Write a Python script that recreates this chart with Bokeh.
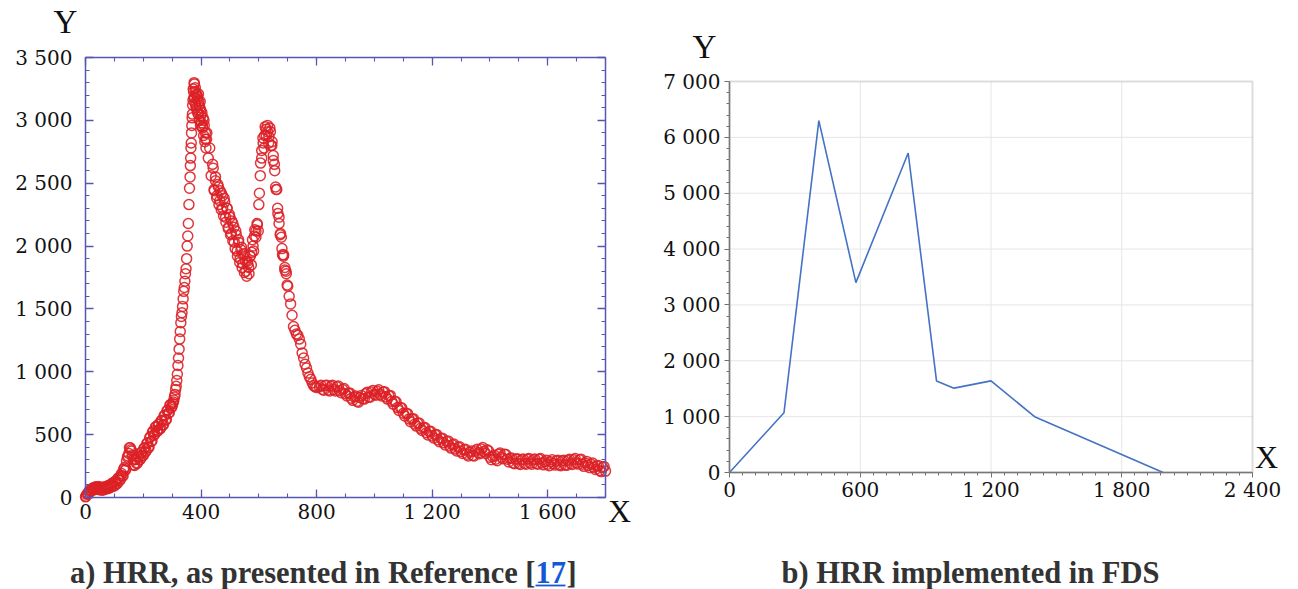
from bokeh.plotting import figure
from bokeh.models import Range1d, FixedTicker, LinearAxis, Label, BoxAnnotation
from bokeh.layouts import row
from bokeh.embed import file_html
from bokeh.resources import INLINE

# ---------------- data: (a) HRR as presented in Reference [17] ----------------
t_a = list(range(0, 301, 5))
hrr_a = [5, 25, 30, 60, 50, 75, 62, 85, 65, 88,
         60, 82, 58, 84, 66, 92, 72, 102, 84, 118,
         92, 132, 112, 158, 140, 190, 172, 238, 228, 320,
         350, 395, 370, 300, 255, 305, 275, 330, 305, 362,
         335, 398, 370, 435, 400, 485, 450, 530, 505, 565,
         530, 585, 550, 615, 580, 655, 620, 695, 675, 740,
         725]
t_b = list(range(302, 401, 2))
hrr_b = [745, 760, 775, 800, 820, 860, 885, 930, 980, 1050,
         1110, 1180, 1260, 1320, 1390, 1440, 1470, 1520, 1580, 1640,
         1670, 1720, 1780, 1820, 1900, 2000, 2080, 2180, 2330, 2460,
         2550, 2700, 2820, 2960, 3050, 3160, 3230, 3300, 3180, 3260,
         3120, 3210, 3080, 3190, 3050, 3150, 3000, 3100, 2960, 3040]
t_c = list(range(405, 801, 5))
hrr_c = [2950, 3000, 2850, 2900, 2700, 2780, 2560, 2650, 2450, 2520,
         2400, 2470, 2360, 2420, 2300, 2380, 2230, 2300, 2150, 2230,
         2100, 2180, 2030, 2120, 1960, 2050, 1900, 1990, 1860, 1940,
         1800, 1880, 1830, 1920, 1950, 2000, 2080, 2120, 2170, 2330,
         2560, 2760, 2820, 2880, 2930, 2960, 2870, 2910, 2800, 2720,
         2600, 2450, 2300, 2180, 2100, 1980, 1920, 1830, 1780, 1680,
         1600, 1540, 1450, 1360, 1330, 1300, 1290, 1260, 1220, 1150,
         1110, 1060, 1030, 990, 960, 940, 910, 890, 880, 875]
t_d = list(range(810, 1801, 10))
hrr_d = [880, 860, 890, 855, 885, 860, 880, 850, 860, 825,
         830, 790, 800, 765, 795, 785, 825, 800, 840, 820,
         845, 820, 840, 800, 810, 765, 765, 715, 715, 670,
         670, 625, 625, 585, 590, 550, 555, 515, 525, 490,
         500, 460, 470, 435, 445, 410, 420, 385, 400, 365,
         380, 345, 360, 335, 370, 355, 385, 365, 380, 320,
         325, 305, 345, 320, 345, 305, 310, 275, 305, 270,
         300, 270, 305, 275, 300, 270, 305, 275, 285, 265,
         285, 270, 290, 260, 290, 260, 295, 270, 300, 275,
         300, 265, 275, 255, 265, 240, 250, 215, 240, 210]
# extra (denser) samples in the peak / valley clusters
t_e = list(range(363, 420, 2))
hrr_e = [2640, 2780, 2900, 3020, 3120, 3250, 3180, 3290, 3140, 3230,
         3100, 3200, 3170, 3060, 3210, 3120, 3000, 3150, 3080, 2980,
         3060, 2940, 3020, 2880, 2960, 2830, 2900, 2780, 2850]
t_f = list(range(442, 599, 4))
hrr_f = [2620, 2440, 2550, 2380, 2490, 2330, 2440, 2290, 2400, 2240,
         2350, 2190, 2300, 2140, 2250, 2090, 2200, 2040, 2150, 1980,
         2090, 1920, 2030, 1870, 1970, 1830, 1930, 1790, 1880, 1760,
         1860, 1780, 1920, 1850, 2050, 1960, 2130, 2070, 2180, 2120]
t_g = list(range(602, 699, 4))
hrr_g = [2420, 2660, 2700, 2860, 2780, 2950, 2880, 2910, 2820, 2940,
         2800, 2830, 2680, 2650, 2470, 2450, 2260, 2230, 2090, 2070,
         1930, 1930, 1810, 1800, 1690]
# extra samples in the slow growth and in the decay tail
t_h = list(range(815, 1800, 10))
hrr_h = [892, 853, 892, 848, 892, 848, 887, 833, 867, 808,
         832, 773, 807, 758, 812, 783, 837, 798, 852, 813,
         857, 808, 842, 783, 812, 743, 762, 693, 712, 648,
         667, 603, 627, 568, 592, 533, 557, 498, 527, 473,
         502, 443, 472, 418, 450, 393, 425, 370, 404, 350,
         384, 330, 370, 330, 384, 348, 397, 350, 372, 300,
         337, 293, 354, 308, 342, 283, 314, 268, 309, 263,
         307, 265, 310, 265, 307, 265, 310, 260, 297, 253,
         300, 258, 297, 253, 297, 256, 304, 263, 310, 266,
         305, 248, 287, 238, 274, 223, 254, 206, 247]
t_i = list(range(2, 300, 5))
hrr_i = [10, 30, 48, 55, 68, 70, 80, 72, 82, 70,
         78, 62, 80, 70, 86, 76, 95, 84, 108, 95,
         125, 108, 150, 135, 175, 170, 225, 215, 290, 330,
         395, 380, 335, 260, 300, 270, 320, 300, 355, 330,
         390, 360, 430, 395, 475, 445, 520, 495, 560, 525,
         580, 545, 610, 575, 650, 615, 690, 670, 735, 715]

ref_time = t_a + t_b + t_c + t_d + t_e + t_f + t_g + t_h + t_i
ref_hrr = hrr_a + hrr_b + hrr_c + hrr_d + hrr_e + hrr_f + hrr_g + hrr_h + hrr_i

# ---------------- data: (b) HRR implemented in FDS ----------------
fds_time = [0, 250, 410, 580, 820, 950, 1030, 1200, 1400, 1990]
fds_hrr = [0, 1070, 6300, 3400, 5720, 1640, 1510, 1640, 1000, 0]

# ticks / labels
a_xticks = [0, 400, 800, 1200, 1600]
a_xlabels = ["0", "400", "800", "1 200", "1 600"]
a_yticks = [0, 500, 1000, 1500, 2000, 2500, 3000, 3500]
a_ylabels = ["0", "500", "1 000", "1 500", "2 000", "2 500", "3 000", "3 500"]
b_xticks = [0, 600, 1200, 1800, 2400]
b_xlabels = ["0", "600", "1 200", "1 800", "2 400"]
b_yticks = [0, 1000, 2000, 3000, 4000, 5000, 6000, 7000]
b_ylabels = ["0", "1 000", "2 000", "3 000", "4 000", "5 000", "6 000", "7 000"]

caption_a = "a) HRR, as presented in Reference ["
caption_a_ref = "17"
caption_a_end = "]"
caption_b = "b) HRR implemented in FDS"

TICK_FONT = "DejaVu Serif"
LETTER_FONT = "Liberation Serif"
CAP_FONT = "Liberation Serif"
BLUE_AX = "#5656b4"
H = 589

# ---------------- layout (page pixels) ----------------
W1 = 640
A_X0, A_X1, A_Y0, A_Y1 = 85, 605, 497, 57          # plot box of (a)
A_XMAX, A_YMAX = 1800, 3500
sx1 = A_XMAX / (A_X1 - A_X0)
sy1 = A_YMAX / (A_Y0 - A_Y1)
fx1 = lambda px: (px - A_X0) * sx1
fy1 = lambda py: (A_Y0 - py) * sy1

W2 = 656
B_X0, B_X1, B_Y0, B_Y1 = 729, 1252, 472, 81         # plot box of (b), page coords
B_XMAX, B_YMAX = 2400, 7000
sx2 = B_XMAX / (B_X1 - B_X0)
sy2 = B_YMAX / (B_Y0 - B_Y1)
fx2 = lambda px: (px - B_X0) * sx2
fy2 = lambda py: (B_Y0 - py) * sy2

# text labels are drawn slightly below the given baseline: compensate
LET_SHIFT = 12
CAP_SHIFT = 11


def bare_figure(w, xr, yr):
    p = figure(width=w, height=H, x_range=xr, y_range=yr,
               output_backend="svg", toolbar_location=None,
               x_axis_type=None, y_axis_type=None,
               min_border=0, min_border_left=0, min_border_right=0,
               min_border_top=0, min_border_bottom=0)
    p.outline_line_color = None
    p.background_fill_color = "white"
    p.border_fill_color = "white"
    return p


# ================= figure (a) =================
p1 = bare_figure(W1, Range1d(fx1(0), fx1(W1)), Range1d(fy1(H), fy1(0)))

p1.scatter(ref_time, ref_hrr, marker="circle", size=10, fill_color=None,
           line_color="#dc2127", line_width=1.5, line_alpha=0.9)

for loc in ["below", "left", "above", "right"]:
    if loc in ("below", "above"):
        tk = FixedTicker(ticks=a_xticks, minor_ticks=list(range(0, A_XMAX + 1, 100)))
        ticks, labels = a_xticks, a_xlabels
        fixed = 0 if loc == "below" else A_YMAX
        bounds = (0, A_XMAX)
    else:
        tk = FixedTicker(ticks=a_yticks, minor_ticks=list(range(0, A_YMAX + 1, 100)))
        ticks, labels = a_yticks, a_ylabels
        fixed = 0 if loc == "left" else A_XMAX
        bounds = (0, A_YMAX)
    ax = LinearAxis(ticker=tk, fixed_location=fixed, bounds=bounds)
    ax.axis_line_color = BLUE_AX
    ax.axis_line_width = 1.5
    ax.major_tick_line_color = BLUE_AX
    ax.minor_tick_line_color = BLUE_AX
    ax.major_tick_line_width = 1.3
    ax.minor_tick_line_width = 1.1
    ax.major_tick_in = 8
    ax.major_tick_out = 0
    ax.minor_tick_in = 4
    ax.minor_tick_out = 0
    if loc in ("below", "left"):
        ax.major_label_overrides = {k: v for k, v in zip(ticks, labels)}
        ax.major_label_text_font = TICK_FONT
        ax.major_label_text_font_size = "20px"
        ax.major_label_text_color = "#111111"
        ax.major_label_standoff = 2 if loc == "below" else 13
    else:
        ax.major_label_text_font_size = "0px"
        ax.major_label_text_alpha = 0
    p1.add_layout(ax, loc)

letter_kw = dict(text_font=LETTER_FONT, text_color="#111111",
                 text_align="center", text_baseline="alphabetic")
p1.add_layout(Label(x=fx1(65), y=fy1(33 - LET_SHIFT), text="Y", text_font_size="33px", **letter_kw))
p1.add_layout(Label(x=fx1(619), y=fy1(522 - LET_SHIFT), text="X", text_font_size="32px", **letter_kw))

cap_kw = dict(text_font=CAP_FONT, text_font_size="30.5px", text_font_style="bold",
              text_baseline="alphabetic")
cap_base = 583
ref_left, ref_right = 535, 566
p1.add_layout(Label(x=fx1(ref_left), y=fy1(cap_base - CAP_SHIFT), text=caption_a,
                    text_align="right", text_color="#333333", **cap_kw))
p1.add_layout(Label(x=fx1(ref_left), y=fy1(cap_base - CAP_SHIFT), text=caption_a_ref,
                    text_align="left", text_color="#1558d6", **cap_kw))
p1.add_layout(Label(x=fx1(ref_right), y=fy1(cap_base - CAP_SHIFT), text=caption_a_end,
                    text_align="left", text_color="#333333", **cap_kw))
p1.segment(x0=[fx1(ref_left)], x1=[fx1(ref_right - 1)], y0=[fy1(cap_base + 2)],
           y1=[fy1(cap_base + 2)], line_color="#1558d6", line_width=1.8)

# ================= figure (b) =================
p2 = bare_figure(W2, Range1d(fx2(W1), fx2(W1 + W2)), Range1d(fy2(H), fy2(0)))

# grid at the major ticks
p2.segment(x0=b_xticks[1:-1], x1=b_xticks[1:-1], y0=0, y1=B_YMAX,
           line_color="#e6e6e6", line_width=1)
p2.segment(x0=0, x1=B_XMAX, y0=b_yticks[1:-1], y1=b_yticks[1:-1],
           line_color="#e6e6e6", line_width=1)
p2.add_layout(BoxAnnotation(left=0, right=B_XMAX, bottom=0, top=B_YMAX,
                            fill_color=None, fill_alpha=0,
                            line_color="#8c8c8c", line_width=2))

p2.line(fds_time, fds_hrr, line_color="#4472c4", line_width=1.6)

xt = FixedTicker(ticks=b_xticks, minor_ticks=list(range(0, B_XMAX + 1, 60)))
yt = FixedTicker(ticks=b_yticks, minor_ticks=list(range(0, B_YMAX + 1, 200)))
bx = LinearAxis(ticker=xt, fixed_location=0, bounds=(0, B_XMAX))
by = LinearAxis(ticker=yt, fixed_location=0, bounds=(0, B_YMAX))
bx.major_label_overrides = {k: v for k, v in zip(b_xticks, b_xlabels)}
by.major_label_overrides = {k: v for k, v in zip(b_yticks, b_ylabels)}
for ax in (bx, by):
    ax.axis_line_color = "#707070"
    ax.axis_line_width = 1.5
    ax.major_tick_line_color = "#707070"
    ax.minor_tick_line_color = "#707070"
    ax.major_tick_in = 0
    ax.major_tick_out = 5
    ax.minor_tick_in = 0
    ax.minor_tick_out = 3
    ax.major_label_text_font = TICK_FONT
    ax.major_label_text_font_size = "20px"
    ax.major_label_text_color = "#111111"
bx.major_label_standoff = 0
by.major_label_standoff = 4
p2.add_layout(bx, "below")
p2.add_layout(by, "left")

p2.add_layout(Label(x=fx2(704), y=fy2(58 - LET_SHIFT), text="Y", text_font_size="33px", **letter_kw))
p2.add_layout(Label(x=fx2(1266), y=fy2(468 - LET_SHIFT), text="X", text_font_size="32px", **letter_kw))
p2.add_layout(Label(x=fx2(970), y=fy2(cap_base - CAP_SHIFT), text=caption_b,
                    text_align="center", text_color="#333333", **cap_kw))

layout = row(p1, p2)
open("out.html", "w").write(file_html(layout, INLINE))
